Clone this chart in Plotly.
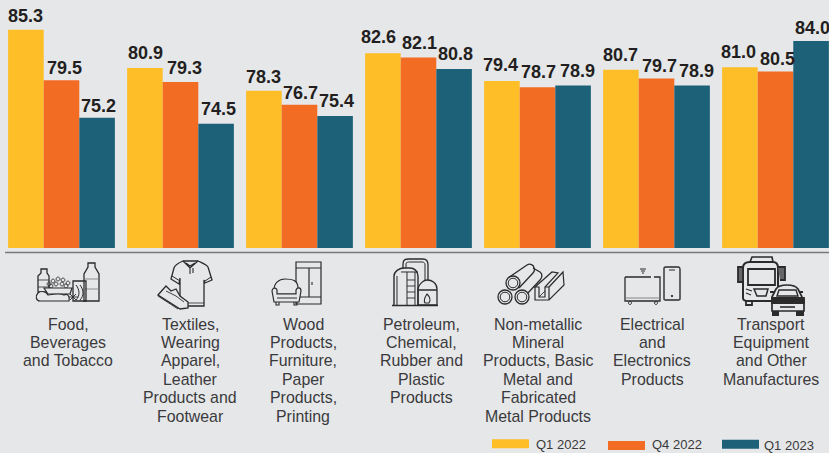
import re
import plotly.graph_objects as go

categories = ["Food", "Textiles", "Wood", "Petroleum", "Non-metallic", "Electrical", "Transport"]
q1_2022 = [85.3, 80.9, 78.3, 82.6, 79.4, 80.7, 81.0]
q4_2022 = [79.5, 79.3, 76.7, 82.1, 78.7, 79.7, 80.5]
q1_2023 = [75.2, 74.5, 75.4, 80.8, 78.9, 78.9, 84.0]
series_names = ["Q1 2022", "Q4 2022", "Q1 2023"]
series_values = [q1_2022, q4_2022, q1_2023]
series_colors = ["#FDBE27", "#F26C24", "#1C6178"]
labels = [
    "Food,<br>Beverages<br>and Tobacco",
    "Textiles,<br>Wearing<br>Apparel,<br>Leather<br>Products and<br>Footwear",
    "Wood<br>Products,<br>Furniture,<br>Paper<br>Products,<br>Printing",
    "Petroleum,<br>Chemical,<br>Rubber and<br>Plastic<br>Products",
    "Non-metallic<br>Mineral<br>Products, Basic<br>Metal and<br>Fabricated<br>Metal Products",
    "Electrical<br>and<br>Electronics<br>Products",
    "Transport<br>Equipment<br>and Other<br>Manufactures",
]
label_x = [68, 190, 303, 421, 538, 652, 771]
# small hand placement of the value labels in the reference (pixels)
nudge_x = [[0, 3, 1], [1, 4, 2], [0, 1, 1], [-4, 1, 1], [-1, 1, 4], [0, 3, 4], [-1, 2, 1]]
gap_y = [[14, 12, 12], [15, 14, 15], [14, 12, 15], [16, 15, 15], [16, 15, 14], [15, 13, 14], [15, 13, 13]]

W, H = 829, 453
BG = "#E6E7E9"
INK = "#2B2B2B"
TXT = "#3A3A3C"
PERIOD, FIRST, BAR = 119, 61.5, 35.6


def conv(d):
    toks = re.findall(r"[MLCQZ]|-?\d+\.?\d*", d)
    out, i = [], 0
    for t in toks:
        if t in "MLCQZ":
            out.append(t)
        else:
            out.append(f"{float(t)/W:.5f}" if i % 2 == 0 else f"{1-float(t)/H:.5f}")
            i += 1
    return " ".join(out)


shapes = []


def ink(d, w=1.3, fill=None, color=INK):
    shapes.append(dict(type="path", xref="paper", yref="paper", path=conv(d),
                       line=dict(color=color, width=w), fillcolor=fill or "rgba(0,0,0,0)", layer="above"))


def circ(x, y, r, w=1.2, fill=None):
    k = 0.55 * r
    ink(f"M {x-r} {y} C {x-r} {y-k} {x-k} {y-r} {x} {y-r} C {x+k} {y-r} {x+r} {y-k} {x+r} {y} "
        f"C {x+r} {y+k} {x+k} {y+r} {x} {y+r} C {x-k} {y+r} {x-r} {y+k} {x-r} {y} Z", w, fill)


# separator
ink("M 5 252.5 L 829 252.5", 1.5, color="#77797B")

# --- food
ink("M 41 269 L 47 269 L 47 273 L 49 276 L 49 292 L 38 292 L 38 276 L 41 273 Z")
ink("M 38 280 L 49 280 M 38 287 L 49 287", 0.8)
ink("M 88 263 L 95 263 L 95 267 L 99 274 L 99 301 L 84 301 L 84 274 L 88 267 Z")
ink("M 84 279 L 99 279 M 84 289 L 99 289", 0.8, color="#77797B")
ink("M 73 281 L 86 281 L 86 301 L 73 301 Z", 1.3)
ink("M 76 285 C 80 290 80 296 76 300 M 80 285 C 84 290 84 296 80 300", 1)
for cx, cy in [(49, 284), (53, 281), (58, 279), (63, 280), (68, 283), (56, 284), (62, 284), (66, 286), (51, 286)]:
    circ(cx, cy, 1.9, 0.9)
ink("M 44 288 L 72 288 L 70 294 L 48 294 Z", 1.2, fill=BG)
ink("M 38 293 C 42 290 46 292 48 295 C 54 294 60 293 64 295 C 68 293 70 297 69 301 L 40 301 C 36 301 35 296 38 293 Z", 1.2, fill=BG)
ink("M 70 294 L 76 300 M 76 294 L 70 300 M 69 297 L 78 297", 0.9)

# --- shirt and shoe
ink("M 183 261 C 178 263 175 265 174 268 L 171 279 L 179 284 L 180 278 L 180 306 L 204 306 L 204 280 L 205 283 "
    "L 212 280 L 208 267 C 206 264 202 263 198 261 Z", 1.3)
ink("M 183 261 L 190 268 L 198 261 M 190 268 L 190 274 M 193 268 L 193 273 M 186 263 L 190 266 L 195 263", 1.1)
ink("M 172 276 L 180 281 M 205 281 L 211 277", 1)
ink("M 182 303 L 204 303", 0.8)
ink("M 158 295 L 166 286 L 171 291 L 176 289 L 180 296 L 188 302 L 188 308 L 180 309 Z", 1.3, fill=BG)
ink("M 158 296 L 178 309 M 166 291 L 176 296 L 184 302", 0.9)

# --- cabinet and sofa
ink("M 296 262 L 321 262 L 321 304 L 296 304 Z M 296 268 L 321 268 M 309 268 L 309 297 M 296 297 L 321 297", 1.2)
ink("M 312 282 L 312 285", 1.1)
ink("M 274 290 C 274 283 279 279 285 279 C 292 279 298 280 298 288 L 298 294 L 276 294 Z", 1.2, fill=BG)
ink("M 272 291 C 272 288 276 287 277 290 L 277 294 L 296 294 L 296 290 C 297 287 301 287 301 291 L 299 302 L 274 302 Z", 1.2, fill=BG)
ink("M 277 298 L 297 298", 1)
ink("M 276 302 L 276 305 L 279 305 L 279 302 M 294 302 L 294 305 L 297 305 L 297 302", 1.1)

# --- petroleum
ink("M 392 305.5 L 438 305.5", 1.4)
ink("M 394 305 L 394 276 C 394 271 400 268 404 268 L 410 268 C 414 268 418 271 418 276 L 418 305", 1.4)
ink("M 397 276 L 397 305 M 407 272 L 407 305 M 415 272 L 415 305 M 401 272 L 418 272", 1)
ink("M 407 280 L 415 280 M 407 286 L 415 286 M 407 292 L 415 292 M 407 298 L 415 298", 0.9)
ink("M 403 269 L 403 264 C 403 259 406 259 409 259 L 423 259 C 426 259 428 261 428 265 L 428 280", 1.3)
ink("M 406 268 L 406 264 C 406 262 408 262 410 262 L 422 262 C 424 262 425 263 425 265 L 425 280", 1)
ink("M 418 288 C 420 283 424 280 427 280 C 432 280 437 283 437 289 L 437 305 L 418 305 Z M 418 290 L 437 290", 1.3)
ink("M 427 294 C 430 297 431 300 429 303 L 425 303 C 423 300 425 297 427 294 Z", 1.1)

# --- metal pipes and channel
ink("M 508 278 L 527 265 C 530 263 534 265 534 268 C 535 270 534 272 533 273 L 519 288", 1.3)
ink("M 533 268 L 540 272 C 543 274 542 278 540 280 L 527 294", 1.3)
for cx, cy in [(513, 283), (505, 297), (522, 297)]:
    circ(cx, cy, 7, 1.3, BG)
    circ(cx, cy, 4.8, 1)
ink("M 535 287 L 552 272 L 558 273 L 545 287 L 545 297 L 539 297 L 539 287 Z", 1.2)
ink("M 549 287 L 563 272 L 564 285 L 549 300 L 535 300 L 535 287 M 545 287 L 549 287 L 549 300", 1.2)
ink("M 539 297 L 545 291", 0.9)

# --- TV and phone
ink("M 625 277 L 651 277 M 654 277 L 660 277 L 660 301 L 625 301 L 625 277", 1.3)
ink("M 625 298 L 660 298", 0.9, color="#77797B")
circ(630, 303, 1.5, 1)
circ(656, 303, 1.5, 1)
ink("M 640 269 L 646 269 M 641 271 L 645 271 M 642 273 L 644 273", 1)
ink("M 664 268 C 664 267 665 267 666 267 L 678 267 C 680 267 680 268 680 270 L 680 298 C 680 300 680 300 678 300 L 666 300 C 664 300 664 300 664 298 Z", 1.4)
ink("M 669 270 L 675 270", 1)
circ(672, 296, 0.8, 1, INK)

# --- bus and car
ink("M 743 268 C 743 264 746 262 750 262 L 773 262 C 776 262 778 264 778 268 L 778 298 C 778 300 776 301 773 301 L 748 301 C 745 301 743 300 743 298 Z", 2, fill=BG)
ink("M 748 269 L 775 269 L 775 285 L 748 285 Z", 1.8)
ink("M 750 262 L 752 257 L 772 257 L 773 262", 1.6)
ink("M 738 267 L 743 267 L 743 282 L 738 282 Z M 778 267 L 785 267 L 785 280 L 780 280", 1.8, fill="#666668")
ink("M 754 289 L 768 289 L 766 296 L 757 296 Z", 1.5)
ink("M 746 289 L 752 291 M 746 293 L 751 295", 1.2)
ink("M 746 301 L 746 305 L 752 305 L 752 301", 1.8)
ink("M 772 297 L 776 289 C 778 286 782 285 787 285 C 792 285 796 286 798 289 L 802 297 L 804 300 L 804 311 L 772 311 L 772 300 Z", 1.7, fill=BG)
ink("M 777 296 L 779 290 L 796 290 L 798 296 Z", 1.4)
ink("M 770 292 L 774 292 M 799 292 L 803 292", 2)
ink("M 772 298 L 804 298 L 804 303 L 772 303 Z", 1.8, fill=INK)
ink("M 773 311 L 773 315 L 778 315 L 778 311 M 797 311 L 797 315 L 803 315 L 803 311", 2, fill=INK)
ink("M 780 307 L 795 307", 1.6)

fig = go.Figure()
annotations = []
for s, (name, vals, color) in enumerate(zip(series_names, series_values, series_colors)):
    fig.add_bar(name=name, x=categories, y=vals, marker=dict(color=color, line=dict(width=0)), cliponaxis=False)
    for c, (cat, v) in enumerate(zip(categories, vals)):
        annotations.append(dict(x=cat, y=v, xref="x", yref="y", text=f"{v:.1f}", showarrow=False,
                                xanchor="center", yanchor="middle", xshift=(s - 1) * BAR + nudge_x[c][s],
                                yshift=gap_y[c][s], font=dict(family="Liberation Sans", size=18, color="#231F20", weight="bold")))

for x, t in zip(label_x, labels):
    for i, line in enumerate(t.split("<br>")):
        annotations.append(dict(x=x / W, y=1 - (324 + i * 18.4) / H, xref="paper", yref="paper", text=line,
                                showarrow=False, xanchor="center", yanchor="middle", borderpad=0,
                                font=dict(family="Liberation Sans", size=15.9, color=TXT)))

# legend
legend_swatch = [(492, 439.2), (608, 441), (722, 439.8)]
legend_text = [(534.5, 444), (651, 444.5), (763, 445.3)]
for (lx, ly), (tx, ty), name, color in zip(legend_swatch, legend_text, series_names, series_colors):
    shapes.append(dict(type="rect", xref="paper", yref="paper", x0=lx / W, x1=(lx + 37) / W,
                       y0=1 - ly / H, y1=1 - (ly + 9) / H, fillcolor=color, line=dict(width=0)))
    annotations.append(dict(x=tx / W, y=1 - ty / H, xref="paper", yref="paper", text=name, showarrow=False, borderpad=0,
                            xanchor="left", yanchor="middle", font=dict(family="Liberation Sans", size=13, color=TXT)))

fig.update_layout(
    width=W, height=H, margin=dict(l=0, r=0, t=0, b=0),
    paper_bgcolor=BG, plot_bgcolor=BG, showlegend=False,
    barmode="group", bargap=0.103, bargroupgap=0,
    shapes=shapes, annotations=annotations,
    xaxis=dict(type="category", range=[-FIRST / PERIOD, (W - FIRST) / PERIOD], showticklabels=False, showgrid=False,
               zeroline=False, showline=False, ticks=""),
    yaxis=dict(domain=[1 - 248 / H, 1], range=[60.24, 60.24 + 248 / 8.71], visible=False, showgrid=False, zeroline=False),
)
fig.write_html("out.html", config={"displayModeBar": False},
               post_script="document.body.style.margin='0';document.body.style.background='%s';document.documentElement.style.overflow='hidden';" % BG)
